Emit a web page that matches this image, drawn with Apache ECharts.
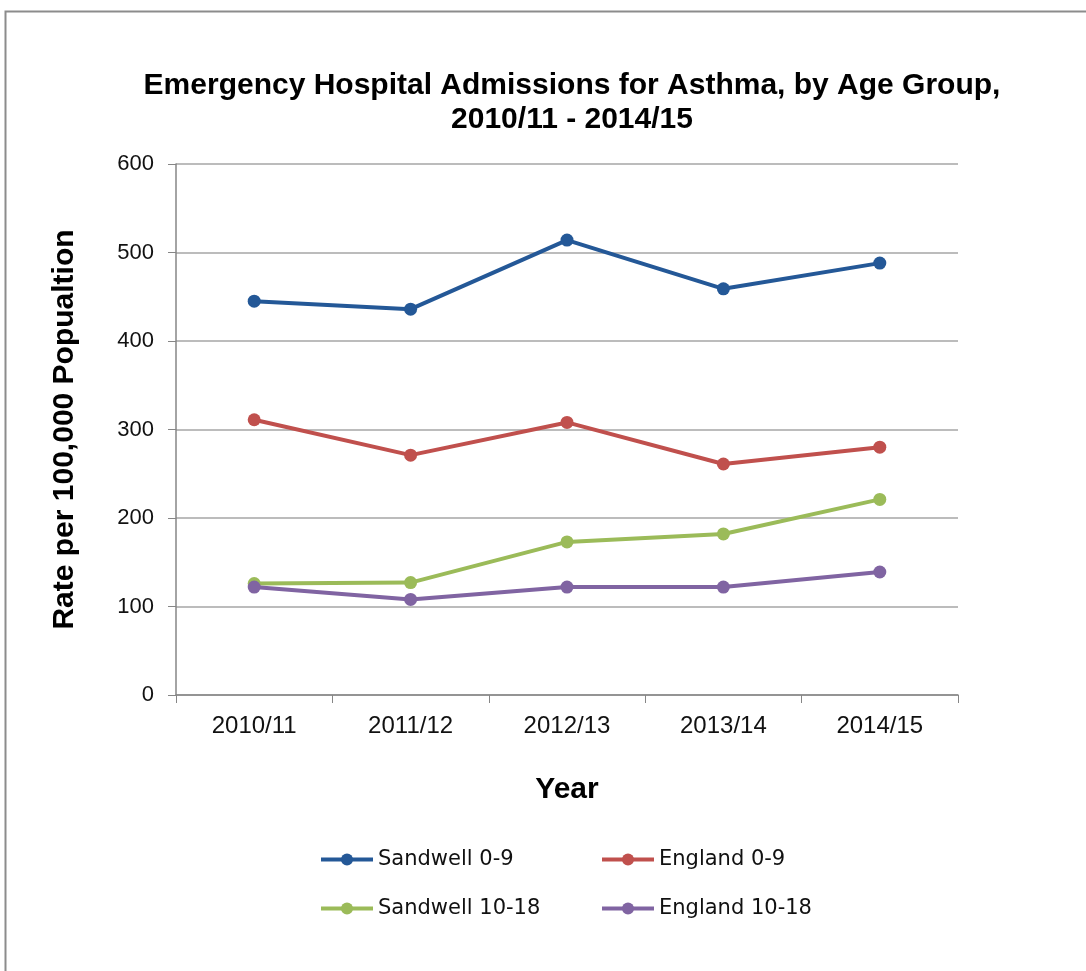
<!DOCTYPE html>
<html>
<head>
<meta charset="utf-8">
<script src="https://cdn.jsdelivr.net/npm/echarts@6/dist/echarts.min.js"></script>
<style>html,body{margin:0;padding:0;background:#fff;}#c{width:1086px;height:971px;}</style>
</head>
<body>
<div id="c"></div>
<script>
const categories = ['2010/11', '2011/12', '2012/13', '2013/14', '2014/15'];
const sandwell09 = [445, 436, 514, 459, 488];
const england09 = [311, 271, 308, 261, 280];
const sandwell1018 = [126, 127, 173, 182, 221];
const england1018 = [122, 108, 122, 122, 139];
const seriesNames = ['Sandwell 0-9', 'England 0-9', 'Sandwell 10-18', 'England 10-18'];
const seriesColors = ['#245897', '#C0504D', '#9BBB59', '#8064A2'];
const seriesData = [sandwell09, england09, sandwell1018, england1018];

const chart = echarts.init(document.getElementById('c'));
const legendPos = [[319, 849], [600, 849], [319, 898], [600, 898]];
const option = {
  animation: false,
  backgroundColor: '#fff',
  title: {
    text: 'Emergency Hospital Admissions for Asthma, by Age Group,\n2010/11 - 2014/15',
    left: 567, top: 64, textAlign: 'center',
    textStyle: { fontFamily: 'Liberation Sans, Arial', fontWeight: 'bold', fontSize: 30, lineHeight: 34, color: '#000' }
  },
  graphic: [{
    type: 'rect', shape: { x: 5.5, y: 11.5, width: 1100, height: 1000 },
    style: { fill: 'none', stroke: '#8c8c8c', lineWidth: 2 }, silent: true
  }],
  legend: seriesNames.map((n, i) => ({
    data: [n], left: legendPos[i][0], top: legendPos[i][1], padding: 0,
    itemWidth: 52, itemHeight: 15, itemGap: 6,
    lineStyle: { width: 4 },
    textStyle: { fontFamily: 'DejaVu Sans, Verdana', fontSize: 21, color: '#111' }
  })),
  grid: { left: 176, right: 128, top: 164, bottom: 276, containLabel: false },
  xAxis: {
    type: 'category', data: categories, boundaryGap: true,
    name: 'Year', nameLocation: 'middle', nameGap: 80,
    nameTextStyle: { fontFamily: 'Liberation Sans, Arial', fontWeight: 'bold', fontSize: 30, color: '#000' },
    axisLine: { lineStyle: { color: '#868686', width: 1.5 } },
    axisTick: { show: true, length: 8, alignWithLabel: false, lineStyle: { color: '#868686' } },
    axisLabel: { fontFamily: 'Liberation Sans, Arial', fontSize: 24, color: '#111', margin: 19 }
  },
  yAxis: {
    type: 'value', min: 0, max: 600, interval: 100,
    name: 'Rate per 100,000 Popualtion', nameLocation: 'middle', nameGap: 96, nameRotate: 90,
    nameTextStyle: { fontFamily: 'Liberation Sans, Arial', fontWeight: 'bold', fontSize: 30, color: '#000' },
    axisLine: { show: true, lineStyle: { color: '#868686', width: 1.5 } },
    axisTick: { show: true, length: 8, lineStyle: { color: '#868686' } },
    axisLabel: { fontFamily: 'Liberation Sans, Arial', fontSize: 22, color: '#111', margin: 22 },
    splitLine: { lineStyle: { color: '#a6a6a6', width: 1.5 } }
  },
  series: seriesNames.map((n, i) => ({
    name: n, type: 'line', data: seriesData[i],
    symbol: 'circle', symbolSize: 13,
    lineStyle: { color: seriesColors[i], width: 4 },
    itemStyle: { color: seriesColors[i] }
  })),
  color: seriesColors
};
chart.setOption(option);
</script>
</body>
</html>
